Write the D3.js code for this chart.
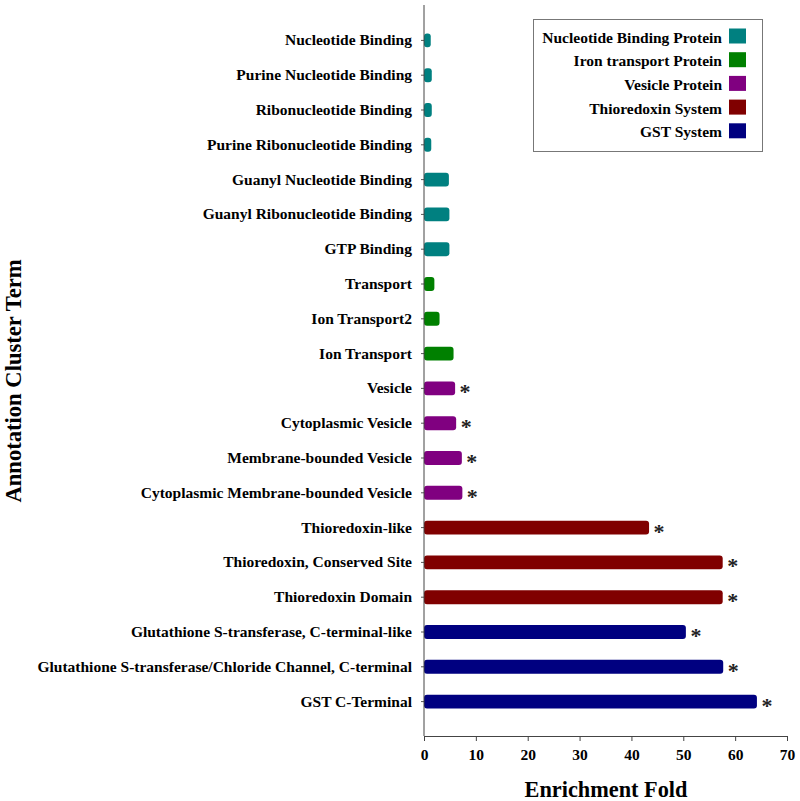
<!DOCTYPE html>
<html>
<head>
<meta charset="utf-8">
<script src="https://cdn.jsdelivr.net/npm/d3@7"></script>
<style>
  body { margin: 0; background: #fff; }
  text { font-family: "Liberation Serif", "Times New Roman", serif; font-weight: bold; }
</style>
</head>
<body>
<div id="chart"></div>
<script>
// Annotation cluster terms, top to bottom
const terms = [
    'Nucleotide Binding',
    'Purine Nucleotide Binding',
    'Ribonucleotide Binding',
    'Purine Ribonucleotide Binding',
    'Guanyl Nucleotide Binding',
    'Guanyl Ribonucleotide Binding',
    'GTP Binding',
    'Transport',
    'Ion Transport2',
    'Ion Transport',
    'Vesicle',
    'Cytoplasmic Vesicle',
    'Membrane-bounded Vesicle',
    'Cytoplasmic Membrane-bounded Vesicle',
    'Thioredoxin-like',
    'Thioredoxin, Conserved Site',
    'Thioredoxin Domain',
    'Glutathione S-transferase, C-terminal-like',
    'Glutathione S-transferase/Chloride Channel, C-terminal',
    'GST C-Terminal'
];
const enrichment = [1.3, 1.5, 1.5, 1.4, 4.8, 4.9, 4.9, 2.0, 3.0, 5.7,
    6.0, 6.2, 7.3, 7.4, 43.4, 57.6, 57.6, 50.5, 57.7, 64.2];
const groupOf = [0, 0, 0, 0, 0, 0, 0, 1, 1, 1, 2, 2, 2, 2, 3, 3, 3, 4, 4, 4];
const significant = [0, 0, 0, 0, 0, 0, 0, 0, 0, 0, 1, 1, 1, 1, 1, 1, 1, 1, 1, 1];

const groups = ['Nucleotide Binding Protein', 'Iron transport Protein', 'Vesicle Protein',
    'Thioredoxin System', 'GST System'];
const groupColors = ['#008080', '#008000', '#800080', '#800000', '#000080'];
const xTicks = [0, 10, 20, 30, 40, 50, 60, 70];

const width = 800, height = 801;
const svg = d3.select('#chart').append('svg')
    .attr('width', width)
    .attr('height', height);

const x = d3.scaleLinear().domain([0, 70]).range([424, 787]);
const y = d3.scaleBand().domain(terms).range([23, 719]).paddingInner(0.6).paddingOuter(0.3);
const axisY = 736;

// Bars
svg.selectAll('rect.bar')
    .data(terms)
    .enter().append('rect')
    .attr('class', 'bar')
    .attr('x', x(0))
    .attr('y', d => y(d))
    .attr('width', (d, i) => x(enrichment[i]) - x(0))
    .attr('height', y.bandwidth())
    .attr('rx', 3)
    .attr('fill', (d, i) => groupColors[groupOf[i]]);

// Significance markers
svg.selectAll('text.star')
    .data(terms.filter((d, i) => significant[i]))
    .enter().append('text')
    .attr('class', 'star')
    .attr('x', d => x(enrichment[terms.indexOf(d)]) + 10)
    .attr('y', d => y(d) + y.bandwidth() / 2 + 11)
    .attr('text-anchor', 'middle')
    .attr('font-size', 22)
    .attr('font-weight', 'normal')
    .attr('fill', '#222')
    .text('*');

// Y axis
const yAxis = svg.append('g')
    .attr('transform', `translate(${x(0)},0)`)
    .call(d3.axisLeft(y).tickSize(3).tickPadding(9));
yAxis.select('.domain').remove();
yAxis.selectAll('line').attr('stroke', '#555');
yAxis.selectAll('text')
    .attr('font-size', 15.5)
    .attr('fill', '#000');
svg.append('line')
    .attr('x1', x(0)).attr('x2', x(0))
    .attr('y1', 5).attr('y2', axisY)
    .attr('stroke', '#444');

// X axis
const xAxis = svg.append('g')
    .attr('transform', `translate(0,${axisY})`)
    .call(d3.axisBottom(x).tickValues(xTicks).tickSize(5).tickPadding(8));
xAxis.select('.domain').attr('stroke', '#444');
xAxis.selectAll('line').attr('stroke', '#444');
xAxis.selectAll('text')
    .attr('font-size', 15.5)
    .attr('fill', '#000');

// Axis titles
svg.append('text')
    .attr('x', 606)
    .attr('y', 797)
    .attr('text-anchor', 'middle')
    .attr('font-size', 22.3)
    .text('Enrichment Fold');

svg.append('text')
    .attr('transform', 'translate(21,381) rotate(-90)')
    .attr('text-anchor', 'middle')
    .attr('font-size', 22.6)
    .text('Annotation Cluster Term');

// Legend
const legend = svg.append('g');
legend.append('rect')
    .attr('x', 533.5).attr('y', 19.5)
    .attr('width', 229).attr('height', 132)
    .attr('fill', '#fff')
    .attr('stroke', '#777');

groups.forEach((g, i) => {
    const ly = 28.5 + i * 23.7;
    legend.append('rect')
        .attr('x', 729).attr('y', ly)
        .attr('width', 17).attr('height', 15)
        .attr('fill', groupColors[i]);
    legend.append('text')
        .attr('x', 722).attr('y', ly + 14)
        .attr('text-anchor', 'end')
        .attr('font-size', 15.5)
        .text(g);
});
</script>
</body>
</html>
